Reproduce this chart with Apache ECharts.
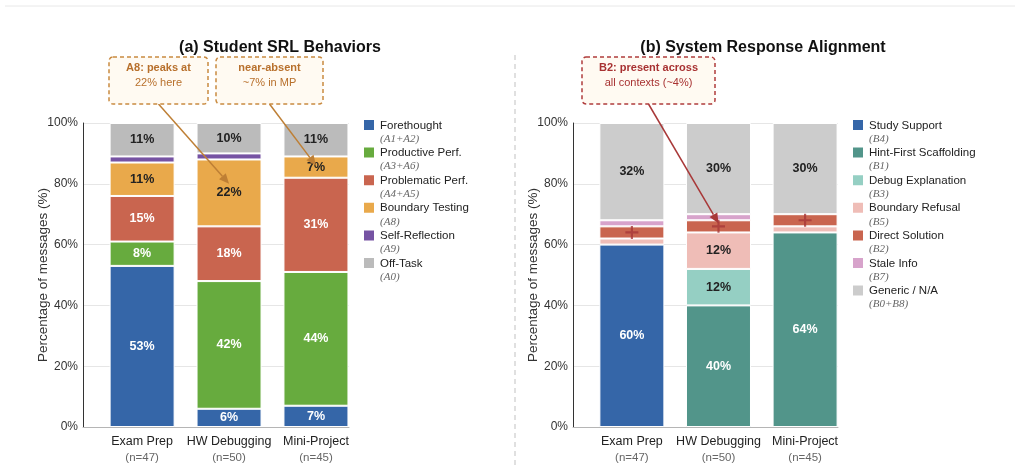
<!DOCTYPE html>
<html>
<head>
<meta charset="utf-8">
<script src="https://cdn.jsdelivr.net/npm/echarts@6/dist/echarts.min.js"></script>
<style>
    html, body { margin: 0; padding: 0; background: #fff; }
    #chart { width: 1020px; height: 470px; }
</style>
</head>
<body>
<div id="chart"></div>
<script>
    // contexts on the x axis
    var categories = ['Exam Prep', 'HW Debugging', 'Mini-Project'];
    var sampleSizes = [47, 50, 45];

    // (a) student SRL behaviours, % of messages
    var srlNames = ['Forethought', 'Productive Perf.', 'Problematic Perf.', 'Boundary Testing', 'Self-Reflection', 'Off-Task'];
    var srlCodes = ['(A1+A2)', '(A3+A6)', '(A4+A5)', '(A8)', '(A9)', '(A0)'];
    var forethought = [53, 6, 7];
    var productivePerf = [8, 42, 44];
    var problematicPerf = [15, 18, 31];
    var boundaryTesting = [11, 22, 7];
    var selfReflection = [2, 2, 0];
    var offTask = [11, 10, 11];

    // (b) system response alignment, % of messages
    var respNames = ['Study Support', 'Hint-First Scaffolding', 'Debug Explanation', 'Boundary Refusal', 'Direct Solution', 'Stale Info', 'Generic / N/A'];
    var respCodes = ['(B4)', '(B1)', '(B3)', '(B5)', '(B2)', '(B7)', '(B0+B8)'];
    var studySupport = [60, 0, 0];
    var hintFirst = [0, 40, 64];
    var debugExplanation = [0, 12, 0];
    var boundaryRefusal = [2, 12, 2];
    var directSolution = [4, 4, 4];
    var staleInfo = [2, 2, 0];
    var genericNA = [32, 30, 30];

    // callouts: text lines and the [category index, %] they point at
    var noteTexts = [['A8: peaks at', '22% here'], ['near-absent', '~7% in MP'], ['B2: present across', 'all contexts (~4%)']];
    var noteTargets = [[1, 80], [2, 86], [1, 67]];

    var srlColors = ['#3566a8', '#67ab3e', '#c9654f', '#e9a94b', '#7653a3', '#bbbbbb'];
    var srlLabelColors = ['#fff', '#fff', '#fff', '#222', '#fff', '#222'];
    var respColors = ['#3566a8', '#52958a', '#95cfc3', '#efbdb7', '#c9654f', '#d7a3cb', '#cccccc'];
    var respLabelColors = ['#fff', '#fff', '#222', '#222', '#fff', '#222', '#222'];

    var chart = echarts.init(document.getElementById('chart'));

    // value first so the stack is done on the percentage, x (context index) second
    function stackSeries(name, values, color, labelColor, axisIdx) {
        return {
            type: 'bar',
            name: name,
            stack: 'g' + axisIdx,
            xAxisIndex: axisIdx,
            yAxisIndex: axisIdx,
            barWidth: 65,
            encode: { x: 1, y: 0 },
            data: values.map(function (v, i) { return [v > 0 ? v : '-', i]; }),
            itemStyle: { color: color, borderColor: '#fff', borderWidth: 1 },
            label: {
                show: true,
                position: 'inside',
                color: labelColor,
                fontSize: 12.5,
                fontWeight: 'bold',
                formatter: function (p) {
                    var v = p.value[0];
                    return v >= 5 ? v + '%' : '';
                }
            }
        };
    }

    function xAxisFor(idx) {
        return {
            gridIndex: idx,
            type: 'value',
            min: -0.68,
            max: 2.38,
            axisLine: { show: true, onZero: false, lineStyle: { color: '#b5b5b5', width: 1 } },
            axisTick: { show: false },
            splitLine: { show: false },
            axisLabel: {
                customValues: [0, 1, 2],
                margin: 7,
                formatter: function (v) {
                    var i = Math.round(v);
                    return '{c|' + categories[i] + '}\n{n|(n=' + sampleSizes[i] + ')}';
                },
                rich: {
                    c: { fontSize: 12.5, color: '#222', lineHeight: 16 },
                    n: { fontSize: 11.5, color: '#666', lineHeight: 15 }
                }
            }
        };
    }

    function yAxisFor(idx) {
        return {
            gridIndex: idx,
            type: 'value',
            min: 0,
            max: 100,
            interval: 20,
            axisLine: { show: true, onZero: false, lineStyle: { color: '#333', width: 1 } },
            axisTick: { show: false },
            axisLabel: { formatter: '{value}%', color: '#333', fontSize: 12, margin: 5 },
            splitLine: { lineStyle: { color: '#e6e6e6', width: 1 } },
            name: 'Percentage of messages (%)',
            nameLocation: 'middle',
            nameGap: 33,
            nameMoveOverlap: false,
            nameTextStyle: { fontSize: 13.5, color: '#333' }
        };
    }

    function legendFor(names, codes, left) {
        return {
            data: names,
            left: left,
            top: 118,
            orient: 'vertical',
            icon: 'rect',
            itemWidth: 12,
            itemHeight: 12,
            itemGap: 1.1,
            padding: 0,
            selectedMode: false,
            formatter: function (name) {
                return '{a|' + name + '}\n{b|' + codes[names.indexOf(name)] + '}';
            },
            textStyle: {
                padding: [14, 0, 0, 0],
                rich: {
                    a: { fontSize: 11.5, color: '#222', lineHeight: 14 },
                    b: { fontSize: 11, color: '#666', fontStyle: 'italic', fontFamily: 'Liberation Serif', lineHeight: 13 }
                }
            }
        };
    }

    var srlValues = [forethought, productivePerf, problematicPerf, boundaryTesting, selfReflection, offTask];
    var respValues = [studySupport, hintFirst, debugExplanation, boundaryRefusal, directSolution, staleInfo, genericNA];

    var series = [];
    srlNames.forEach(function (n, k) {
        series.push(stackSeries(n, srlValues[k], srlColors[k], srlLabelColors[k], 0));
    });
    respNames.forEach(function (n, k) {
        series.push(stackSeries(n, respValues[k], respColors[k], respLabelColors[k], 1));
    });

    // "+" markers at the middle of each Direct Solution segment
    var directMarks = categories.map(function (c, i) {
        var below = studySupport[i] + hintFirst[i] + debugExplanation[i] + boundaryRefusal[i];
        return [i, below + directSolution[i] / 2];
    });
    series.push({
        type: 'scatter',
        name: 'B2 marker',
        xAxisIndex: 1,
        yAxisIndex: 1,
        symbol: 'path://M5,0H7V5H12V7H7V12H5V7H0V5H5Z',
        symbolSize: 13,
        itemStyle: { color: '#a83838' },
        z: 5,
        data: directMarks
    });

    chart.setOption({
        animation: false,
        textStyle: { fontFamily: 'Liberation Sans, Arial, sans-serif' },
        title: [
            { text: '(a) Student SRL Behaviors', left: 280, top: 40, textAlign: 'center', padding: 0,
              textStyle: { fontSize: 16, fontWeight: 'bold', color: '#111' } },
            { text: '(b) System Response Alignment', left: 763, top: 40, textAlign: 'center', padding: 0,
              textStyle: { fontSize: 16, fontWeight: 'bold', color: '#111' } }
        ],
        grid: [
            { left: 83, top: 123, width: 266, height: 304 },
            { left: 573, top: 123, width: 265, height: 304 }
        ],
        xAxis: [xAxisFor(0), xAxisFor(1)],
        yAxis: [yAxisFor(0), yAxisFor(1)],
        legend: [legendFor(srlNames, srlCodes, 362), legendFor(respNames, respCodes, 851)],
        series: series
    });

    // callout boxes, arrows and separators
    var boxes = [
        { x: 109, y: 57, w: 99, h: 47, grid: 0, stroke: '#c98a40', text: '#b8702c', line: '#be7f35' },
        { x: 216, y: 57, w: 107, h: 47, grid: 0, stroke: '#c98a40', text: '#b8702c', line: '#be7f35' },
        { x: 582, y: 57, w: 133, h: 47, grid: 1, stroke: '#b03c3c', text: '#a83232', line: '#a83838' }
    ];

    var graphics = [
        { type: 'line', shape: { x1: 5, y1: 6, x2: 1015, y2: 6 }, style: { stroke: '#e8e8e8', lineWidth: 1 } },
        { type: 'line', shape: { x1: 515, y1: 55, x2: 515, y2: 466 }, style: { stroke: '#cccccc', lineWidth: 1.2, lineDash: [5, 4] } }
    ];

    boxes.forEach(function (b, k) {
        var cx = b.x + b.w / 2;
        graphics.push({
            type: 'rect', z: 20,
            shape: { x: b.x, y: b.y, width: b.w, height: b.h, r: 4 },
            style: { fill: '#fffaf2', stroke: b.stroke, lineWidth: 1.5, lineDash: [4, 3] }
        });
        graphics.push({
            type: 'text', z: 21, x: cx, y: b.y + 18.5,
            style: {
                text: '{t|' + noteTexts[k][0] + '}\n{s|' + noteTexts[k][1] + '}',
                align: 'center', verticalAlign: 'middle',
                rich: {
                    t: { fontSize: 11, fontWeight: 'bold', fill: b.text, lineHeight: 15, align: 'center' },
                    s: { fontSize: 11, fill: b.text, lineHeight: 15, align: 'center' }
                }
            }
        });
        var tip = chart.convertToPixel({ gridIndex: b.grid }, noteTargets[k]);
        var sx = cx, sy = b.y + b.h;
        var dx = tip[0] - sx, dy = tip[1] - sy;
        var len = Math.sqrt(dx * dx + dy * dy);
        var ux = dx / len, uy = dy / len;
        var hl = 10, hw = 4.5;
        var bx = tip[0] - ux * hl, by = tip[1] - uy * hl;
        graphics.push({
            type: 'line', z: 15,
            shape: { x1: sx, y1: sy, x2: bx, y2: by },
            style: { stroke: b.line, lineWidth: 1.5 }
        });
        graphics.push({
            type: 'polygon', z: 15,
            shape: { points: [[tip[0], tip[1]], [bx - uy * hw, by + ux * hw], [bx + uy * hw, by - ux * hw]] },
            style: { fill: b.line }
        });
    });

    chart.setOption({ graphic: graphics });
</script>
</body>
</html>
